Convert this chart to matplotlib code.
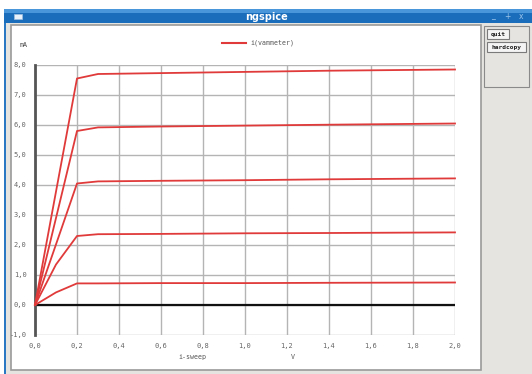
import matplotlib
matplotlib.use("Agg")
import matplotlib.pyplot as plt
from matplotlib.patches import Rectangle

# ---- data ----
sweep_v = [0.0, 0.1, 0.2, 0.3, 0.6, 1.0, 1.4, 2.0]
curve_1 = [0.0, 3.78, 7.55, 7.70, 7.73, 7.77, 7.81, 7.85]
curve_2 = [0.0, 2.90, 5.80, 5.92, 5.95, 5.98, 6.01, 6.05]
curve_3 = [0.0, 2.02, 4.05, 4.12, 4.14, 4.16, 4.19, 4.22]
curve_4 = [0.0, 1.35, 2.30, 2.36, 2.37, 2.39, 2.40, 2.42]
curve_5 = [0.0, 0.42, 0.72, 0.72, 0.73, 0.73, 0.74, 0.75]
curves = [curve_1, curve_2, curve_3, curve_4, curve_5]
x_ticks = [0.0, 0.2, 0.4, 0.6, 0.8, 1.0, 1.2, 1.4, 1.6, 1.8, 2.0]
y_ticks = [-1.0, 0.0, 1.0, 2.0, 3.0, 4.0, 5.0, 6.0, 7.0, 8.0]
legend_label = "i(vammeter)"
y_unit = "mA"
x_label = "i-sweep"
x_unit = "V"
window_title = "ngspice"

W, H = 532, 374
fig = plt.figure(figsize=(W / 100, H / 100), dpi=100)
fig.patch.set_facecolor("white")

# background "window" axes in pixel coords
bg = fig.add_axes([0, 0, 1, 1])
bg.set_xlim(0, W)
bg.set_ylim(H, 0)
bg.axis("off")

# window body
bg.add_patch(Rectangle((5, 9), W - 5, H - 9, facecolor="#e6e4e1", edgecolor="none"))
# left blue border
bg.add_patch(Rectangle((4, 9), 2, H - 9, facecolor="#2a78c4", edgecolor="none"))
# title bar
bg.add_patch(Rectangle((4, 9), W - 4, 14, facecolor="#1a6dbb", edgecolor="none"))
bg.add_patch(Rectangle((4, 9), W - 4, 4, facecolor="#4a96da", edgecolor="none"))
bg.text(266, 16.5, window_title, color="white", fontsize=7, fontweight="bold",
        ha="center", va="center", family="DejaVu Sans")
bg.add_patch(Rectangle((14, 13.5), 8, 5, facecolor="#e8f0fa", edgecolor="#9fc0e0", lw=0.5))
for i, s in enumerate(["_", "+", "x"]):
    bg.text(493 + i * 14, 16, s, color="#9cc4ea", fontsize=5.5, ha="center", va="center")

# plot white region
bg.add_patch(Rectangle((11, 25), 470, 345, facecolor="white", edgecolor="#9a9a9a", lw=1.2))
# button panel
bg.add_patch(Rectangle((484, 26), 45, 61, facecolor="#e6e4e1", edgecolor="#8a8a8a", lw=0.8))
bg.add_patch(Rectangle((487, 29), 22, 10, facecolor="#f4f4f4", edgecolor="#7a7a7a", lw=0.8))
bg.text(498, 34, "quit", fontsize=4.5, fontweight="bold", ha="center", va="center",
        family="DejaVu Sans Mono", color="#222222")
bg.add_patch(Rectangle((487, 42), 39, 10, facecolor="#f4f4f4", edgecolor="#7a7a7a", lw=0.8))
bg.text(506.5, 47, "hardcopy", fontsize=4.5, fontweight="bold", ha="center", va="center",
        family="DejaVu Sans Mono", color="#222222")

# labels
bg.text(20, 45, y_unit, fontsize=4.8, color="#444444", ha="left", va="center",
        family="DejaVu Sans Mono")
bg.plot([222, 246], [43, 43], color="#e03a3a", lw=1.5)
bg.text(250, 43, legend_label, fontsize=4.8, color="#555555", ha="left", va="center",
        family="DejaVu Sans Mono")
bg.text(192, 357, x_label, fontsize=4.8, color="#555555", ha="center", va="center",
        family="DejaVu Sans Mono")
bg.text(293, 357, x_unit, fontsize=4.8, color="#555555", ha="center", va="center",
        family="DejaVu Sans Mono")

# main plot axes
left, right = 35 / W, 455 / W
bottom, top = (H - 335) / H, (H - 65) / H
ax = fig.add_axes([left, bottom, right - left, top - bottom])
ax.patch.set_alpha(0)
ax.set_xlim(0, 2.0)
ax.set_ylim(-1.0, 8.0)
ax.set_xticks(x_ticks)
ax.set_yticks(y_ticks)
ax.set_xticklabels([f"{v:.1f}".replace(".", ",") for v in x_ticks])
ax.set_yticklabels([f"{v:.1f}".replace(".", ",") for v in y_ticks])
ax.tick_params(length=0, labelsize=5, labelcolor="#666666", pad=6)
for lab in ax.get_xticklabels() + ax.get_yticklabels():
    lab.set_family("DejaVu Sans Mono")
ax.grid(True, color="#b4b4b4", lw=1.0)
ax.set_axisbelow(True)
for s in ["top", "right", "bottom"]:
    ax.spines[s].set_visible(False)
ax.spines["left"].set_color("#555555")
ax.spines["left"].set_linewidth(2.0)
ax.axhline(0.0, color="#111111", lw=1.6, zorder=2)

for c in curves:
    ax.plot(sweep_v, c, color="#e03a3a", lw=1.3, zorder=3, clip_on=False)

fig.savefig("out.png", dpi=100)
